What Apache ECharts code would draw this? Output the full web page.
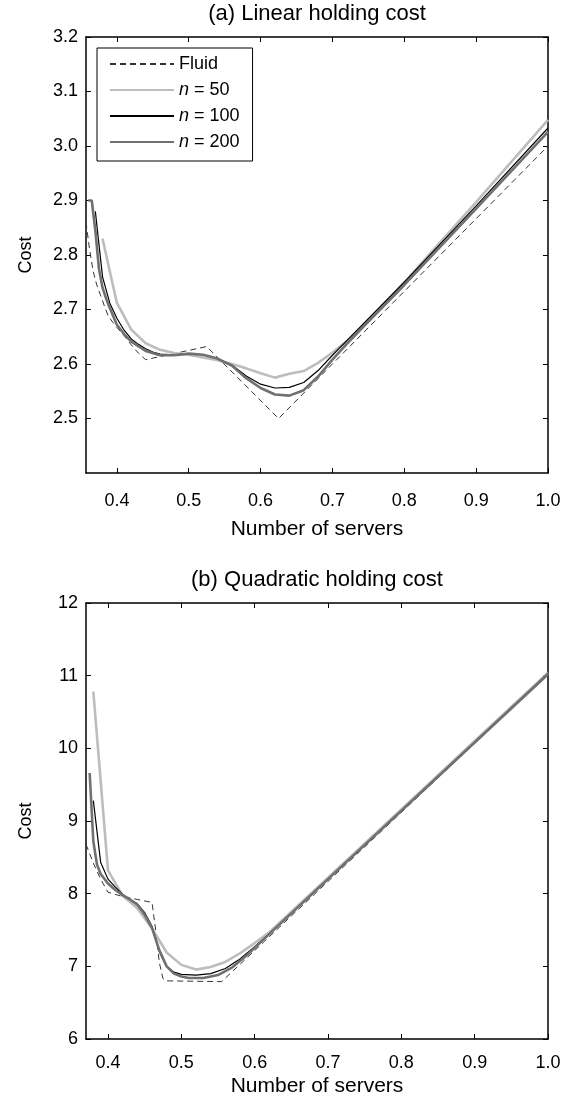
<!DOCTYPE html>
<html>
<head>
<meta charset="utf-8">
<script src="https://cdn.jsdelivr.net/npm/echarts@6/dist/echarts.min.js"></script>
<style>
  html, body { margin: 0; padding: 0; background: #fff; }
  #chart { width: 568px; height: 1097px; }
</style>
</head>
<body>
<div id="chart"></div>
<script>
const FONT = '"Liberation Sans", Arial, Helvetica, sans-serif'

// ---- (a) linear holding cost ----
const fluidAX = [0.357, 0.362, 0.367, 0.372, 0.377, 0.383, 0.388, 0.394, 0.40, 0.41, 0.42, 0.43, 0.44, 0.525, 0.625, 1.0]
const fluidAY = [2.86, 2.81, 2.77, 2.745, 2.727, 2.705, 2.688, 2.677, 2.667, 2.652, 2.635, 2.62, 2.608, 2.632, 2.5, 3.0]
const n50AX = [0.38, 0.40, 0.42, 0.44, 0.46, 0.48, 0.50, 0.52, 0.54, 0.56, 0.58, 0.60, 0.62, 0.64, 0.66, 0.68, 0.70, 0.72, 0.74, 0.76, 0.78, 0.80, 0.90, 1.00]
const n50AY = [2.83, 2.712, 2.663, 2.638, 2.626, 2.62, 2.617, 2.612, 2.607, 2.6, 2.592, 2.583, 2.575, 2.582, 2.587, 2.602, 2.621, 2.642, 2.667, 2.694, 2.722, 2.75, 2.897, 3.048]
const n100AX = [0.37, 0.38, 0.39, 0.40, 0.41, 0.42, 0.43, 0.44, 0.45, 0.46, 0.48, 0.50, 0.52, 0.54, 0.56, 0.58, 0.60, 0.62, 0.64, 0.66, 0.68, 0.70, 0.72, 0.75, 0.80, 0.90, 1.00]
const n100AY = [2.88, 2.76, 2.712, 2.684, 2.662, 2.646, 2.636, 2.628, 2.622, 2.618, 2.617, 2.619, 2.617, 2.61, 2.598, 2.578, 2.563, 2.556, 2.557, 2.566, 2.588, 2.616, 2.643, 2.683, 2.75, 2.89, 3.033]
const n200AX = [0.36, 0.365, 0.37, 0.375, 0.38, 0.385, 0.39, 0.40, 0.41, 0.42, 0.44, 0.46, 0.48, 0.50, 0.52, 0.54, 0.56, 0.58, 0.60, 0.62, 0.64, 0.66, 0.68, 0.70, 0.72, 0.75, 0.80, 0.90, 1.00]
const n200AY = [2.9, 2.9, 2.845, 2.775, 2.74, 2.72, 2.703, 2.672, 2.655, 2.641, 2.624, 2.616, 2.616, 2.619, 2.617, 2.61, 2.597, 2.574, 2.556, 2.544, 2.542, 2.552, 2.577, 2.608, 2.637, 2.678, 2.745, 2.885, 3.026]

// ---- (b) quadratic holding cost ----
const fluidBX = [0.37, 0.38, 0.39, 0.40, 0.41, 0.42, 0.44, 0.46, 0.465, 0.47, 0.475, 0.48, 0.555, 1.0]
const fluidBY = [8.68, 8.42, 8.2, 8.02, 7.99, 7.96, 7.92, 7.88, 7.5, 7.05, 6.83, 6.8, 6.79, 11.02]
const n50BX = [0.38, 0.40, 0.42, 0.44, 0.46, 0.48, 0.50, 0.52, 0.54, 0.56, 0.58, 0.60, 0.62, 0.70, 0.80, 0.90, 1.00]
const n50BY = [10.78, 8.32, 7.97, 7.8, 7.52, 7.19, 7.02, 6.955, 6.99, 7.06, 7.18, 7.32, 7.47, 8.22, 9.16, 10.1, 11.04]
const n100BX = [0.38, 0.39, 0.40, 0.41, 0.42, 0.43, 0.44, 0.45, 0.46, 0.47, 0.48, 0.49, 0.50, 0.52, 0.54, 0.56, 0.58, 0.60, 0.62, 0.70, 1.00]
const n100BY = [9.28, 8.43, 8.2, 8.09, 7.99, 7.92, 7.86, 7.74, 7.55, 7.2, 7.0, 6.92, 6.89, 6.88, 6.9, 6.97, 7.1, 7.27, 7.45, 8.2, 11.03]
const n200BX = [0.375, 0.38, 0.385, 0.39, 0.40, 0.41, 0.42, 0.43, 0.44, 0.45, 0.46, 0.47, 0.48, 0.49, 0.50, 0.51, 0.53, 0.55, 0.57, 0.59, 0.61, 0.63, 0.70, 1.00]
const n200BY = [9.66, 8.72, 8.4, 8.27, 8.14, 8.05, 7.98, 7.92, 7.85, 7.71, 7.53, 7.22, 7.0, 6.9, 6.86, 6.84, 6.84, 6.88, 6.99, 7.16, 7.35, 7.54, 8.2, 11.02]

const xTicks = [0.4, 0.5, 0.6, 0.7, 0.8, 0.9, 1.0]
const yTicksA = [2.5, 2.6, 2.7, 2.8, 2.9, 3.0, 3.1, 3.2]
const yTicksB = [6, 7, 8, 9, 10, 11, 12]
const titles = ['(a) Linear holding cost', '(b) Quadratic holding cost']
const seriesNames = ['Fluid', 'n = 50', 'n = 100', 'n = 200']

const styles = [
  { color: '#333', width: 1, type: [6, 4] },
  { color: '#bdbdbd', width: 2.6, type: 'solid' },
  { color: '#000', width: 1.2, type: 'solid' },
  { color: '#707070', width: 2.6, type: 'solid' },
]

const zip = (xs, ys) => xs.map((x, i) => [x, ys[i]])

const panels = [
  { top: 37, xMin: 0.357, yMin: 2.4, yMax: 3.2, yTicks: yTicksA, dec: 1, labelMargin: 19, nameGap: 46,
    data: [zip(fluidAX, fluidAY), zip(n50AX, n50AY), zip(n100AX, n100AY), zip(n200AX, n200AY)] },
  { top: 603, xMin: 0.37, yMin: 6, yMax: 12, yTicks: yTicksB, dec: 0, labelMargin: 15, nameGap: 37,
    data: [zip(fluidBX, fluidBY), zip(n50BX, n50BY), zip(n100BX, n100BY), zip(n200BX, n200BY)] },
]

const axisLine = { show: true, onZero: false, lineStyle: { color: '#000', width: 1.5 } }
const tickStyle = { inside: true, length: 5, lineStyle: { color: '#000', width: 1 } }
const labelStyle = { color: '#000', fontSize: 18, fontFamily: FONT }

const grid = [], xAxis = [], yAxis = [], series = [], graphic = []

panels.forEach((p, g) => {
  grid.push({ left: 86, right: 20, top: p.top, height: 436, outerBoundsMode: 'none' })
  graphic.push({
    type: 'text', x: 317, y: p.top - 23,
    style: { text: titles[g], font: '22px ' + FONT, fill: '#000', align: 'center', verticalAlign: 'middle' },
  })
  xAxis.push({
    type: 'value', gridIndex: g, position: 'bottom', min: p.xMin, max: 1.0,
    axisLine, axisTick: { ...tickStyle, customValues: xTicks },
    axisLabel: { ...labelStyle, margin: p.labelMargin, customValues: xTicks, formatter: v => v.toFixed(1) },
    splitLine: { show: false },
    name: 'Number of servers', nameLocation: 'middle', nameGap: p.nameGap,
    nameTextStyle: { color: '#000', fontSize: 21, fontFamily: FONT },
  })
  xAxis.push({
    type: 'value', gridIndex: g, position: 'top', min: p.xMin, max: 1.0,
    axisLine, axisTick: { ...tickStyle, customValues: xTicks },
    axisLabel: { show: false }, splitLine: { show: false },
  })
  yAxis.push({
    type: 'value', gridIndex: g, position: 'left', min: p.yMin, max: p.yMax,
    axisLine, axisTick: { ...tickStyle, customValues: p.yTicks },
    axisLabel: { ...labelStyle, margin: 8, customValues: p.yTicks, formatter: v => v.toFixed(p.dec) },
    splitLine: { show: false },
    name: 'Cost', nameLocation: 'middle', nameGap: 51,
    nameTextStyle: { color: '#000', fontSize: 18, fontFamily: FONT },
  })
  yAxis.push({
    type: 'value', gridIndex: g, position: 'right', min: p.yMin, max: p.yMax,
    axisLine, axisTick: { ...tickStyle, customValues: p.yTicks },
    axisLabel: { show: false }, splitLine: { show: false },
  })
  p.data.forEach((d, i) => {
    series.push({
      name: seriesNames[i], type: 'line', data: d,
      xAxisIndex: g * 2, yAxisIndex: g * 2,
      symbol: 'none', clip: true,
      lineStyle: styles[i], itemStyle: { color: styles[i].color, opacity: 0 },
      z: 2 + i,
    })
  })
})

const chart = echarts.init(document.getElementById('chart'))
chart.setOption({
  animation: false,
  grid, xAxis, yAxis, series, graphic,
  legend: {
    data: seriesNames,
    orient: 'vertical', left: 97, top: 48,
    padding: [7, 13, 10, 12],
    itemWidth: 64, itemHeight: 18, itemGap: 8,
    borderColor: '#000', borderWidth: 1,
    itemStyle: { opacity: 0 },
    textStyle: {
      color: '#000', fontSize: 18, fontFamily: FONT, lineHeight: 18,
      rich: { i: { fontStyle: 'italic', fontSize: 18, fontFamily: FONT, color: '#000' } },
    },
    formatter: name => name === 'Fluid' ? name : '{i|n}' + name.slice(1),
  },
})
</script>
</body>
</html>
